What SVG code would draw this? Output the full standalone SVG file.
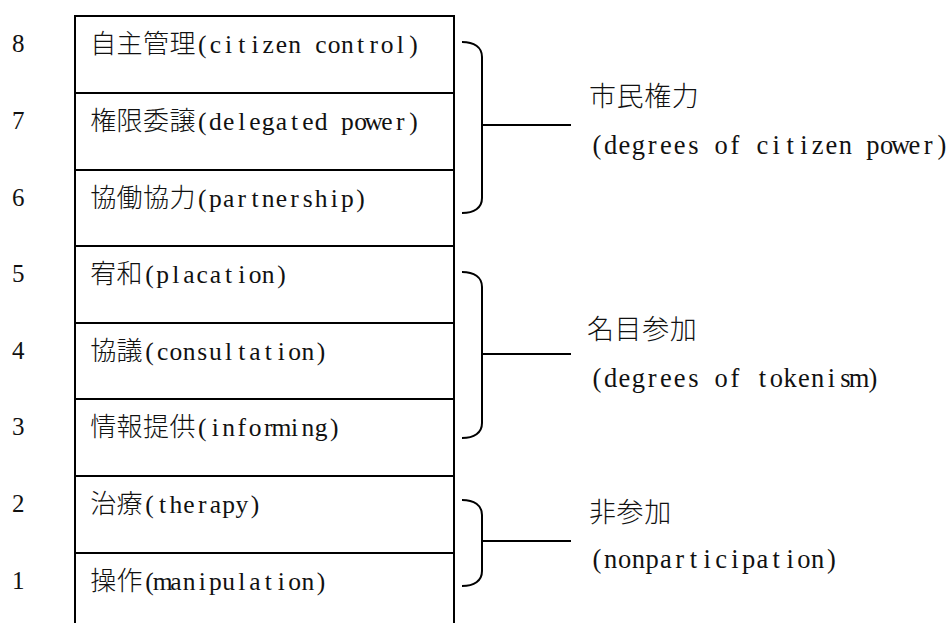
<svg xmlns="http://www.w3.org/2000/svg" width="949" height="623" viewBox="0 0 949 623">
<style>
.row{fill:#fff;stroke:#000;stroke-width:2}
.num{font-family:"Liberation Serif",serif;font-size:25px;fill:#111}
.lbl{fill:#111;text-anchor:middle}
.cj{font-family:"Noto Sans CJK JP",sans-serif;font-size:26px;font-weight:300}
.la{font-family:"Liberation Serif",serif;font-size:25.5px}
.rcj{font-family:"Noto Sans CJK JP",sans-serif;font-size:27px;font-weight:300;letter-spacing:0.6px;fill:#111}
.rla{font-family:"Liberation Serif",serif;font-size:26.5px;fill:#111;text-anchor:middle}
.br{fill:none;stroke:#000;stroke-width:2}
.ln{fill:none;stroke:#000;stroke-width:2}
</style>
<rect x="0" y="0" width="949" height="623" fill="#fff"/>
<g id="rung8"><rect class="row" x="75" y="16" width="379" height="77"/><text class="num" x="12" y="52">8</text><text class="lbl" y="53" x="103.2 129.6 156 182.4 202.2 215.4 228.6 241.8 255 268.2 281.4 294.6 307.8 321 334.2 347.4 360.6 373.8 387 400.2 413.4"><tspan class="cj">自主管理</tspan><tspan class="la">(citizen control)</tspan></text></g>
<g id="rung7"><rect class="row" x="75" y="93" width="379" height="77"/><text class="num" x="12" y="129">7</text><text class="lbl" y="130" x="103.2 129.6 156 182.4 202.2 215.4 228.6 241.8 255 268.2 281.4 294.6 307.8 321 334.2 347.4 360.6 373.8 387 400.2 413.4"><tspan class="cj">権限委譲</tspan><tspan class="la">(delegated power)</tspan></text></g>
<g id="rung6"><rect class="row" x="75" y="170" width="379" height="76"/><text class="num" x="12" y="206">6</text><text class="lbl" y="207" x="103.2 129.6 156 182.4 202.2 215.4 228.6 241.8 255 268.2 281.4 294.6 307.8 321 334.2 347.4 360.6"><tspan class="cj">協働協力</tspan><tspan class="la">(partnership)</tspan></text></g>
<g id="rung5"><rect class="row" x="75" y="246" width="379" height="77"/><text class="num" x="12" y="282">5</text><text class="lbl" y="283" x="103.2 129.6 149.4 162.6 175.8 189 202.2 215.4 228.6 241.8 255 268.2 281.4"><tspan class="cj">宥和</tspan><tspan class="la">(placation)</tspan></text></g>
<g id="rung4"><rect class="row" x="75" y="323" width="379" height="76"/><text class="num" x="12" y="359">4</text><text class="lbl" y="360" x="103.2 129.6 149.4 162.6 175.8 189 202.2 215.4 228.6 241.8 255 268.2 281.4 294.6 307.8 321"><tspan class="cj">協議</tspan><tspan class="la">(consultation)</tspan></text></g>
<g id="rung3"><rect class="row" x="75" y="399" width="379" height="77"/><text class="num" x="12" y="435">3</text><text class="lbl" y="436" x="103.2 129.6 156 182.4 202.2 215.4 228.6 241.8 255 268.2 281.4 294.6 307.8 321 334.2"><tspan class="cj">情報提供</tspan><tspan class="la">(informing)</tspan></text></g>
<g id="rung2"><rect class="row" x="75" y="476" width="379" height="77"/><text class="num" x="12" y="512">2</text><text class="lbl" y="513" x="103.2 129.6 149.4 162.6 175.8 189 202.2 215.4 228.6 241.8 255"><tspan class="cj">治療</tspan><tspan class="la">(therapy)</tspan></text></g>
<g id="rung1"><rect class="row" x="75" y="553" width="379" height="90"/><text class="num" x="12" y="589">1</text><text class="lbl" y="590" x="103.2 129.6 149.4 162.6 175.8 189 202.2 215.4 228.6 241.8 255 268.2 281.4 294.6 307.8 321"><tspan class="cj">操作</tspan><tspan class="la">(manipulation)</tspan></text></g>
<g id="connectors">
<path class="br" d="M462,42 C474,42 482,47 482,57 V198 C482,208 474,213 462,213"/>
<path class="ln" d="M482,125 H571"/>
<path class="br" d="M462,272 C474,272 482,277 482,287 V423 C482,433 474,438 462,438"/>
<path class="ln" d="M482,354 H571"/>
<path class="br" d="M462,500 C474,500 482,505 482,515 V571 C482,581 474,586 462,586"/>
<path class="ln" d="M482,541 H571"/>
</g>
<g id="group-power"><text class="rcj" x="589" y="106">市民権力</text><text class="rla" y="154" x="596.9 610.7 624.5 638.3 652.1 665.9 679.7 693.5 707.3 721.1 734.9 748.7 762.5 776.3 790.1 803.9 817.7 831.5 845.3 859.1 872.9 886.7 900.5 914.3 928.1 941.9">(degrees of citizen power)</text></g>
<g id="group-tokenism"><text class="rcj" x="587" y="339">名目参加</text><text class="rla" y="387" x="596.9 610.7 624.5 638.3 652.1 665.9 679.7 693.5 707.3 721.1 734.9 748.7 762.5 776.3 790.1 803.9 817.7 831.5 845.3 859.1 872.9">(degrees of tokenism)</text></g>
<g id="group-nonparticipation"><text class="rcj" x="589" y="522">非参加</text><text class="rla" y="568" x="596.9 610.7 624.5 638.3 652.1 665.9 679.7 693.5 707.3 721.1 734.9 748.7 762.5 776.3 790.1 803.9 817.7 831.5">(nonparticipation)</text></g>
</svg>
